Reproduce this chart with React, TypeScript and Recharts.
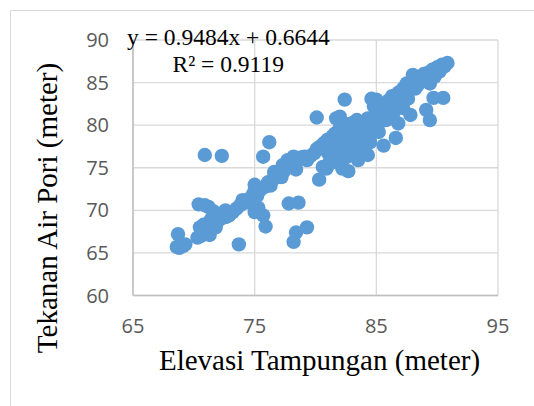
import React from 'react';
import { ScatterChart, Scatter, XAxis, YAxis, CartesianGrid } from 'recharts';

const xTicks = [65, 75, 85, 95];
const yTicks = [60, 65, 70, 75, 80, 85, 90];
const trendLabel = 'y = 0.9484x + 0.6644';
const r2Label = 'R² = 0.9119';
const xTitle = 'Elevasi Tampungan (meter)';
const yTitle = 'Tekanan Air Pori (meter)';

// main band (Elevasi Tampungan, Tekanan Air Pori)
const bandElevasi = [
  68.6, 68.8, 69.1, 69.3, 68.7, 70.3, 70.6, 71.3, 70.5, 70.8, 71.1, 71.8, 71.9, 72.2,
  70.4, 70.9, 71.2, 71.6, 71.9, 72.3, 72.6, 72.9, 73.2, 73.5, 73.8, 74.0, 74.3, 74.6,
  74.9, 75.0, 75.2, 75.4, 75.6, 75.9, 76.1, 76.3, 76.5, 76.8, 77.0, 77.2, 77.4, 77.6,
  77.7, 77.9, 78.1, 78.2, 78.5, 78.4, 78.8, 79.1, 79.3, 79.6, 79.9, 80.1,
  80.4, 80.7, 81.0, 81.2, 81.4, 81.6, 81.9, 82.1, 82.3, 82.6, 82.4, 82.8, 83.0, 83.1,
  83.4, 83.2, 83.6, 83.8, 84.1, 84.3, 84.5, 84.8, 85.0, 85.2, 85.5, 85.8, 86.1,
  81.7, 82.0, 84.8, 85.3, 80.6, 80.9, 81.2, 81.6, 82.0, 81.2,
  81.0, 81.5, 82.5, 83.0, 83.3, 84.0, 84.5, 85.2, 85.8, 71.4, 72.6, 76.6, 77.3,
  86.0, 86.3, 86.5, 86.8, 87.0, 87.2, 87.4, 87.5, 87.8, 88.0, 88.1, 88.4, 88.6, 88.9,
  89.0, 89.3, 89.4, 89.6, 89.8, 90.0, 90.2, 90.4, 90.6, 90.85, 87.2, 87.6, 88.2, 86.4, 86.0,
];
const bandTekanan = [
  65.7, 65.6, 65.8, 66.0, 67.2, 66.8, 67.0, 67.1, 68.0, 68.3, 67.8, 68.0, 68.6, 69.0,
  70.7, 70.6, 70.4, 69.9, 69.6, 69.4, 70.0, 69.4, 69.8, 70.2, 70.6, 71.2, 70.9, 71.4,
  72.0, 73.0, 71.7, 72.3, 72.6, 72.8, 73.3, 72.9, 73.6, 73.9, 74.3, 73.9, 74.6, 75.0,
  75.9, 75.2, 75.6, 76.3, 75.9, 74.8, 76.2, 76.3, 75.9, 76.4, 76.7, 77.2,
  77.5, 77.9, 78.3, 77.6, 78.7, 79.0, 79.4, 78.4, 79.7, 80.1, 77.6, 78.2, 79.0, 80.3,
  80.6, 77.4, 78.3, 79.6, 80.0, 80.8, 79.4, 80.4, 81.0, 80.2, 81.5, 81.9, 82.3,
  80.8, 81.0, 82.2, 82.4, 75.1, 74.9, 75.5, 76.1, 76.8, 75.9,
  76.8, 77.0, 76.2, 76.5, 78.8, 78.6, 78.0, 79.2, 80.6, 68.9, 69.2, 74.5, 75.3,
  82.9, 83.4, 82.6, 83.8, 82.9, 84.3, 83.5, 84.9, 84.2, 85.9, 85.0, 84.7, 85.6, 86.0,
  85.2, 86.2, 84.9, 86.5, 85.7, 86.8, 86.3, 87.1, 86.9, 87.3, 82.0, 83.1, 84.3, 81.4, 81.2,
];

// scattered points away from the band
const outlierElevasi = [
  73.7, 75.0, 75.3, 75.7, 75.9, 77.8, 78.6, 79.3, 78.4, 78.2, 70.9, 72.3, 75.7, 76.2,
  80.1, 80.3, 82.2, 82.7, 82.4, 83.5, 84.3, 83.8, 84.6, 85.0, 85.6, 86.6, 86.8, 87.8,
  89.1, 89.4, 89.7, 90.5,
];
const outlierTekanan = [
  66.0, 69.8, 70.3, 69.4, 68.1, 70.8, 70.9, 68.0, 67.4, 66.3, 76.5, 76.4, 76.3, 78.0,
  80.9, 73.6, 74.9, 74.6, 83.0, 75.9, 76.5, 77.0, 83.1, 83.0, 77.6, 78.5, 80.2, 81.2,
  81.8, 80.6, 83.2, 83.2,
];

const points = [
  ...bandElevasi.map((x, i) => ({ x, y: bandTekanan[i] })),
  ...outlierElevasi.map((x, i) => ({ x, y: outlierTekanan[i] })),
];

const Dot = (props: any) => {
  const { cx, cy } = props;
  if (cx == null || cy == null) return null;
  return <circle cx={cx} cy={cy} r={7.2} fill="#5B9BD5" />;
};

const tickStyle = { fill: '#595959', fontSize: 20, fontFamily: 'Open Sans' };
const serif = 'Liberation Serif, Times New Roman, serif';

export default function App() {
  return (
    <div style={{ position: 'absolute', left: 0, top: 0, width: 534, height: 406, background: '#fff', overflow: 'hidden' }}>
      <div
        style={{
          position: 'absolute', left: 10, top: 10, width: 524, height: 396,
          borderLeft: '1px solid #d9d9d9', borderTop: '1px solid #d9d9d9', boxSizing: 'border-box',
        }}
      />
      <div style={{ position: 'absolute', left: 0, top: 0 }}>
        <ScatterChart width={534} height={406} margin={{ top: 40, right: 36, bottom: 80.5, left: 0 }}>
          <CartesianGrid stroke="#d9d9d9" strokeWidth={1.3} />
          <XAxis
            type="number"
            dataKey="x"
            domain={[65, 95]}
            ticks={xTicks}
            height={30}
            tickSize={0}
            tickMargin={23}
            axisLine={{ stroke: '#bfbfbf', strokeWidth: 1.5 }}
            tick={tickStyle}
            interval={0}
          />
          <YAxis
            type="number"
            dataKey="y"
            domain={[60, 90]}
            ticks={yTicks}
            width={133}
            tickSize={0}
            tickMargin={24}
            axisLine={{ stroke: '#bfbfbf', strokeWidth: 1.5 }}
            tick={tickStyle}
            interval={0}
          />
          <Scatter data={points} fill="#5B9BD5" shape={Dot} isAnimationActive={false} />
        </ScatterChart>
      </div>
      <svg width={534} height={406} style={{ position: 'absolute', left: 0, top: 0, pointerEvents: 'none' }}>
        <text x={127} y={45} fontFamily={serif} fontSize={23.5} fill="#000">{trendLabel}</text>
        <text x={172.5} y={71.5} fontFamily={serif} fontSize={23.5} fill="#000">{r2Label}</text>
        <text x={319.5} y={370} fontFamily={serif} fontSize={29} fill="#000" textAnchor="middle">{xTitle}</text>
        <text
          x={0}
          y={0}
          transform="translate(56.5,208) rotate(-90)"
          fontFamily={serif}
          fontSize={29}
          fill="#000"
          textAnchor="middle"
        >
          {yTitle}
        </text>
      </svg>
    </div>
  );
}
